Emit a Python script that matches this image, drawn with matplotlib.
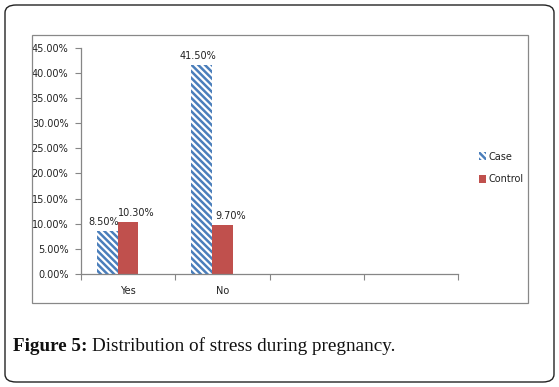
import matplotlib
matplotlib.use("Agg")
import matplotlib.pyplot as plt
import numpy as np
from matplotlib.patches import Rectangle, FancyBboxPatch, Patch
from matplotlib.ticker import FuncFormatter, MultipleLocator
from matplotlib.transforms import offset_copy

# data (percent)
categories = ["Yes", "No"]
n_slots = 4
case = [8.5, 41.5]
control = [10.3, 9.7]
series_names = ["Case", "Control"]

blue = "#4a7ebb"
red = "#c0504d"
W, H = 559, 387

plt.rcParams["hatch.linewidth"] = 1.8
fig = plt.figure(figsize=(W / 100, H / 100), dpi=100)
ax = fig.add_axes([81 / W, 1 - 274 / H, (458 - 81) / W, (274 - 47.7) / H])

x = np.arange(len(categories))
w = 0.22
hatch = "\\" * 5
b1 = ax.bar(x - w, case, w, color="white", edgecolor=blue, hatch=hatch, lw=0)
b2 = ax.bar(x, control, w, color=red, lw=0)

# excel nudges labels: case to the left, control to the right
for bars, vals, dx in ((b1, case, -4), (b2, control, 8)):
    tr = offset_copy(ax.transData, fig=fig, x=dx * 0.72, y=4.5 * 0.72, units="points")
    for r, v in zip(bars, vals):
        ax.text(r.get_x() + r.get_width() / 2, v, "%.2f%%" % v, transform=tr,
                ha="center", va="bottom", fontsize=7, color="#222222")

ax.set_xlim(-0.5, n_slots - 0.5)
ax.set_ylim(0, 45)
ax.yaxis.set_major_locator(MultipleLocator(5))
ax.yaxis.set_major_formatter(FuncFormatter(lambda v, p: "%.2f%%" % v))
ax.set_xticks(np.arange(n_slots + 1) - 0.5)
ax.set_xticklabels([])
ax.set_xticks(x, minor=True)
ax.set_xticklabels(categories, minor=True)
ax.tick_params(axis="x", which="minor", length=0, pad=9, labelsize=7, labelcolor="#222222")
ax.tick_params(axis="x", which="major", length=4, color="#868686")
ax.tick_params(axis="y", length=4, color="#868686", labelsize=7, labelcolor="#222222", pad=5)
for s in ("top", "right"):
    ax.spines[s].set_visible(False)
for s in ("left", "bottom"):
    ax.spines[s].set_color("#868686")
    ax.spines[s].set_linewidth(0.9)

leg = fig.legend([Patch(facecolor="white", edgecolor=blue, hatch=hatch, lw=0),
                  Patch(facecolor=red, lw=0)], series_names,
                 loc="center left", bbox_to_anchor=(470 / W, 1 - 168 / H),
                 frameon=False, fontsize=7, handlelength=0.7, handleheight=0.9,
                 handletextpad=0.3, labelspacing=1.3)
for t in leg.get_texts():
    t.set_color("#222222")

# chart border and outer frame
fig.patches.append(Rectangle((32 / W, 1 - 303 / H), 496 / W, 268 / H, transform=fig.transFigure,
                             fill=False, edgecolor="#888888", lw=0.9))
fig.patches.append(FancyBboxPatch((5 / W, 5 / H), 549 / W, 377 / H, transform=fig.transFigure,
                                  boxstyle="round,pad=0,rounding_size=0.02", fill=False,
                                  edgecolor="#222222", lw=1.0))

# caption
t1 = fig.text(13 / W, 1 - 351 / H, "Figure 5:", fontsize=13.8, fontweight="bold",
              family="Liberation Serif", color="#111111")
fig.canvas.draw()
bb = t1.get_window_extent()
fig.text(bb.x1 / W + 4 / W, 1 - 351 / H, "Distribution of stress during pregnancy.",
         fontsize=13.8, family="Liberation Serif", color="#111111")

fig.savefig("out.png", dpi=100)
